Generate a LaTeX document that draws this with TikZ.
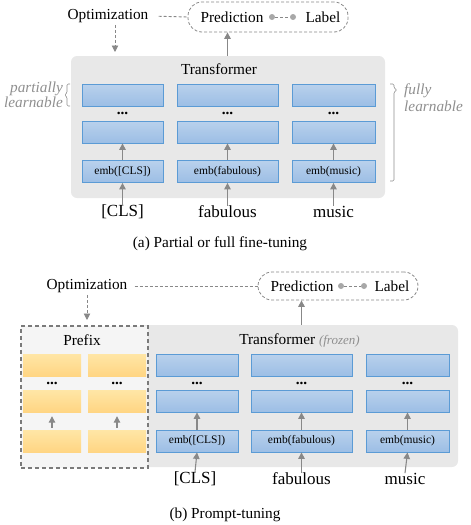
\documentclass[tikz,border=0pt]{standalone}
\usepackage{fontspec}
\setmainfont{Liberation Serif}
\usetikzlibrary{arrows.meta, positioning, calc}

\definecolor{blkline}{HTML}{5B9BD5}
\definecolor{blktop}{HTML}{B9D1EC}
\definecolor{blkbot}{HTML}{9CBEE5}
\definecolor{orgtop}{HTML}{FFE6A6}
\definecolor{orgbot}{HTML}{FFD583}
\definecolor{boxgray}{HTML}{E8E8E8}
\definecolor{pfxgray}{HTML}{F5F5F5}
\definecolor{arrgray}{HTML}{888888}
\definecolor{dotgray}{HTML}{A8A8A8}
\definecolor{notegray}{HTML}{8F8F8F}

\begin{document}
\begin{tikzpicture}[x=1pt, y=-1pt,
    txt/.style={font=\fontsize{15.3}{15}\selectfont, inner sep=0},
    word/.style={font=\fontsize{17}{20}\selectfont, inner sep=0},
    note/.style={font=\fontsize{15.3}{15}\selectfont\itshape, text=notegray, inner sep=0},
    layer/.style={draw=blkline, line width=0.8pt, top color=blktop, bottom color=blkbot,
        minimum height=22pt, inner sep=0, font=\fontsize{11.5}{13}\selectfont},
    pfxblk/.style={top color=orgtop, bottom color=orgbot, minimum width=58pt,
        minimum height=22pt, inner sep=0},
    tfbox/.style={fill=boxgray, rounded corners=6pt, inner sep=0},
    predbox/.style={draw=arrgray, line width=0.8pt, dash pattern=on 3pt off 2pt,
        rounded corners=14pt, minimum width=160pt, inner sep=0},
    pdot/.style={circle, fill=dotgray, minimum size=6pt, inner sep=0},
    dots/.style={font=\fontsize{15.3}{15}\selectfont\bfseries, inner sep=0},
    arr/.style={draw=arrgray, line width=1.1pt, -{Triangle[width=6.5pt,length=6.5pt]}},
    dsh/.style={draw=arrgray, line width=0.9pt, dash pattern=on 3pt off 2pt},
    dsharr/.style={dsh, -{Triangle[width=6.5pt,length=6.5pt]}},
    brc/.style={draw=notegray, line width=0.6pt, rounded corners=1.2pt}
  ]
  \useasboundingbox (0,0) rectangle (471,525);

  % ---------- (a) fine-tuning ----------
  \node[tfbox, minimum width=314pt, minimum height=142pt] (tfa) at (228,127) {};
  \node[txt] (tfalbl) at (219,69) {Transformer};

  % blocks
  \node[layer, minimum width=81pt]  (a11) at (122.5,95) {};
  \node[layer, minimum width=101pt] (a12) at (227.5,95) {};
  \node[layer, minimum width=83pt]  (a13) at (333.5,95) {};
  \node[layer, minimum width=81pt]  (a21) at (122.5,132) {};
  \node[layer, minimum width=101pt] (a22) at (227.5,132) {};
  \node[layer, minimum width=83pt]  (a23) at (333.5,132) {};
  \node[layer, minimum width=81pt]  (a31) at (122.5,171.5) {emb([CLS])};
  \node[layer, minimum width=101pt] (a32) at (227.5,171.5) {emb(fabulous)};
  \node[layer, minimum width=83pt]  (a33) at (333.5,171.5) {emb(music)};
  \foreach \c in {1,2,3} {
    \node[dots] (ad\c) at ($(a1\c.south)!0.5!(a2\c.north)$) {...};
    \draw[arr] (a3\c.north) -- (a2\c.south);
  }

  % inputs
  \node[word] (wa1) at (122.5,212) {[CLS]};
  \node[word] (wa2) at (227.5,212) {fabulous};
  \node[word] (wa3) at (333.5,212) {music};
  \foreach \c in {1,2,3}
    \draw[arr] (wa\c.north) -- (a3\c.south);

  % brackets
  \draw[brc] (70,84) -- (67,84) -- (67,93) -- (64.5,95) -- (67,97) -- (67,106) -- (70,106);
  \node[note, anchor=east, align=right] (parta) at (63,95) {partially\\learnable};
  \draw[brc] (390,84) -- (394,84) -- (394,88) -- (397,90) -- (394,92) -- (394,181) -- (390,181);
  \node[note, anchor=west, align=left] (fulla) at (404,98) {fully\\[2pt]learnable};

  % objective
  \node[txt] (opta) at (108,16) {Optimization};
  \node[predbox, minimum height=30pt] (pba) at (268,17) {};
  \node[txt] (preda) at (232,17) {Prediction};
  \node[pdot] (pa1) at (272,17) {};
  \node[pdot] (pa2) at (293,17) {};
  \node[txt] (laba) at (323,17) {Label};
  \draw[dsh] (pa1) -- (pa2);
  \draw[dsh, shorten <=10pt] (opta.east) -- (pba.west);
  \coordinate (oa) at (115,52);
  \draw[dsharr, shorten <=2pt] (opta.south -| oa) -- (oa);
  \draw[arr] (a12 |- tfa.north) -- (a12 |- pba.south);

  \node[txt] (capa) at (220,244) {(a) Partial or full fine-tuning};

  % ---------- (b) prompt-tuning ----------
  \node[tfbox, minimum width=318pt, minimum height=142pt] (tfb) at (299,396) {};
  \node[draw=arrgray!90!black, fill=pfxgray, line width=1.3pt, dash pattern=on 4pt off 3pt,
        minimum width=127pt, minimum height=142pt, inner sep=0] (pfx) at (84.5,397) {};
  \node[txt] (pfxlbl) at (82,340) {Prefix};
  \node[txt] (tfblbl) at (299.5,340) {Transformer {\color{notegray}\itshape\fontsize{13}{15}\selectfont (frozen)}};

  % prefix blocks
  \foreach \c/\x in {1/52,2/117} {
    \node[pfxblk] (p1\c) at (\x,365) {};
    \node[pfxblk] (p2\c) at (\x,401) {};
    \node[pfxblk] (p3\c) at (\x,441) {};
    \node[dots] (pd\c) at ($(p1\c.south)!0.5!(p2\c.north)$) {...};
    \draw[arr, shorten <=2pt, shorten >=4pt] (p3\c.north) -- (p2\c.south);
  }

  % blocks
  \node[layer, minimum width=82pt]  (b11) at (197,365) {};
  \node[layer, minimum width=101pt] (b12) at (301.5,365) {};
  \node[layer, minimum width=83pt]  (b13) at (407.5,365) {};
  \node[layer, minimum width=82pt]  (b21) at (197,401) {};
  \node[layer, minimum width=101pt] (b22) at (301.5,401) {};
  \node[layer, minimum width=83pt]  (b23) at (407.5,401) {};
  \node[layer, minimum width=82pt]  (b31) at (197,441) {emb([CLS])};
  \node[layer, minimum width=101pt] (b32) at (301.5,441) {emb(fabulous)};
  \node[layer, minimum width=83pt]  (b33) at (407.5,441) {emb(music)};
  \foreach \c in {1,2,3} {
    \node[dots] (bd\c) at ($(b1\c.south)!0.5!(b2\c.north)$) {...};
    \draw[arr] (b3\c.north) -- (b2\c.south);
  }

  % inputs
  \node[word] (wb1) at (195,479) {[CLS]};
  \node[word] (wb2) at (301.5,479) {fabulous};
  \node[word] (wb3) at (405,479) {music};
  \foreach \c in {1,2,3}
    \draw[arr] (wb\c.north) -- (b3\c.south);

  % objective
  \node[txt] (optb) at (87,286) {Optimization};
  \node[predbox, minimum height=28pt] (pbb) at (338,286) {};
  \node[txt] (predb) at (302,286) {Prediction};
  \node[pdot] (pb1) at (341,286) {};
  \node[pdot] (pb2) at (364,286) {};
  \node[txt] (labb) at (392,286) {Label};
  \draw[dsh] (pb1) -- (pb2);
  \draw[dsh, shorten <=7pt] (optb.east) -- (pbb.west);
  \coordinate (ob) at (87,320);
  \draw[dsharr, shorten <=2pt] (optb.south) -- (ob);
  \draw[arr] (b12 |- tfb.north) -- (b12 |- pbb.south);

  \node[txt] (capb) at (225,515) {(b) Prompt-tuning};
\end{tikzpicture}
\end{document}
